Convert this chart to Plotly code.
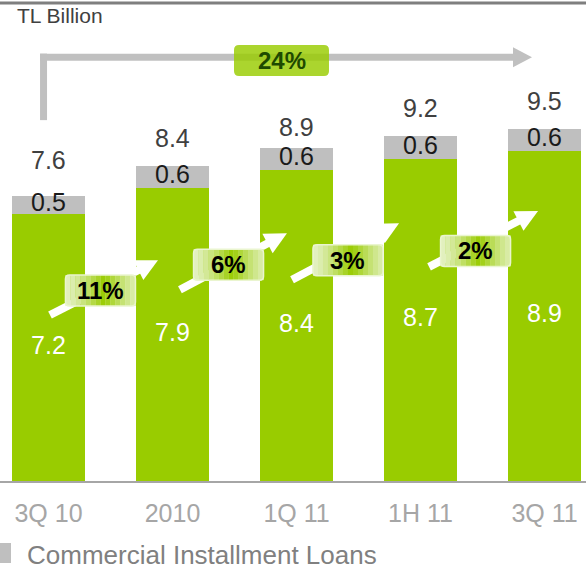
import math
import plotly.graph_objects as go

# ---------------- data ----------------
categories = ["3Q 10", "2010", "1Q 11", "1H 11", "3Q 11"]
main_values = [7.2, 7.9, 8.4, 8.7, 8.9]          # green segment
other_values = [0.5, 0.6, 0.6, 0.6, 0.6]         # grey segment
total_values = [7.6, 8.4, 8.9, 9.2, 9.5]         # totals as printed
growth_labels = ["11%", "6%", "3%", "2%"]
overall_growth = "24%"
unit_label = "TL Billion"
legend_label = "Commercial Installment Loans"

# ---------------- layout / style ----------------
W, H = 586, 573
MB = 92
PH = H - MB                 # plot height in px
PXX = 124.0                 # px per category
PXY = 37.05                 # px per unit on y
X0PX = 48.5                 # px position of first category
X_RANGE = [-X0PX / PXX, (W - X0PX) / PXX]
Y_RANGE = [0, PH / PXY]

GREEN = "#99cc00"
GREY = "#bfbfbf"
FONT = "Arial, Liberation Sans, sans-serif"

total_label_shift = [39, 32, 24, 32, 28]

# decorations in data coordinates
growth_tail = [(0.012, 4.48), (1.06, 5.16), (1.964, 5.43), (3.069, 5.78)]
growth_tip = [(0.883, 5.96), (1.923, 6.69), (2.827, 6.96), (3.948, 7.29)]
growth_box = [(0.419, 5.14), (1.452, 5.84), (2.415, 5.96), (3.444, 6.21)]
BOX_W_PX, BOX_H_PX = 70, 31

bracket_x = -0.04
bracket_bottom = 9.74
bracket_y = 11.44
bracket_tip_x = 3.899
overall_box = (1.496, 2.262, 10.931, 11.768)


def to_px(x, y):
    return X0PX + x * PXX, PH - y * PXY


def to_data(px, py):
    return (px - X0PX) / PXX, (PH - py) / PXY


def arrow_shapes(tail, tip, color, width, head_len, head_half):
    tx, ty = to_px(*tail)
    hx, hy = to_px(*tip)
    dx, dy = hx - tx, hy - ty
    n = math.hypot(dx, dy)
    ux, uy = dx / n, dy / n
    bx, by = hx - ux * head_len, hy - uy * head_len
    nx, ny = -uy, ux
    p1 = to_data(hx, hy)
    p2 = to_data(bx + nx * head_half, by + ny * head_half)
    p3 = to_data(bx - nx * head_half, by - ny * head_half)
    lb = to_data(bx + ux * 2, by + uy * 2)
    out = [
        dict(type="line", xref="x", yref="y", x0=tail[0], y0=tail[1], x1=lb[0], y1=lb[1],
             line=dict(color=color, width=width)),
        dict(type="path", xref="x", yref="y",
             path=f"M{p1[0]},{p1[1]} L{p2[0]},{p2[1]} L{p3[0]},{p3[1]} Z",
             fillcolor=color, line=dict(width=0)),
    ]
    return out


def rounded_path(x0, x1, y0, y1, r_px):
    rx, ry = r_px / PXX, r_px / PXY
    return (f"M{x0+rx},{y0} L{x1-rx},{y0} Q{x1},{y0} {x1},{y0+ry} "
            f"L{x1},{y1-ry} Q{x1},{y1} {x1-rx},{y1} L{x0+rx},{y1} "
            f"Q{x0},{y1} {x0},{y1-ry} L{x0},{y0+ry} Q{x0},{y0} {x0+rx},{y0} Z")


def mix(c1, c2, t):
    return "rgb(%d,%d,%d)" % tuple(round(a + (b - a) * t) for a, b in zip(c1, c2))


xs = list(range(len(categories)))

fig = go.Figure()
fig.add_trace(go.Bar(x=xs, y=main_values, marker=dict(color=GREEN, line=dict(width=0)),
                     width=73 / PXX, name="main", showlegend=False, hoverinfo="skip"))
fig.add_trace(go.Bar(x=xs, y=other_values, marker=dict(color=GREY, line=dict(width=0)),
                     width=73 / PXX, name=legend_label, showlegend=False, hoverinfo="skip"))
fig.add_trace(go.Scatter(x=xs, y=[m / 2 for m in main_values], mode="text",
                         text=[f"{v:.1f}" for v in main_values],
                         textfont=dict(family=FONT, size=25, color="white"),
                         showlegend=False, hoverinfo="skip"))
fig.add_trace(go.Scatter(x=xs, y=[m + o / 2 for m, o in zip(main_values, other_values)],
                         mode="text", text=[f"{v:.1f}" for v in other_values],
                         textfont=dict(family=FONT, size=25, color="#1a1a1a"),
                         showlegend=False, hoverinfo="skip"))

shapes = []
annotations = []

# top rule
shapes.append(dict(type="line", xref="paper", yref="paper", x0=0, x1=1,
                   y0=1 - 3 / PH, y1=1 - 3 / PH, line=dict(color="#7f7f7f", width=3)))

# overall bracket arrow
shapes.append(dict(type="line", xref="x", yref="y", x0=bracket_x, x1=bracket_x,
                   y0=bracket_bottom, y1=bracket_y + 3.5 / PXY,
                   line=dict(color="#c0c0c0", width=7)))
shapes += arrow_shapes((bracket_x - 3.5 / PXX, bracket_y), (bracket_tip_x, bracket_y),
                       "#c0c0c0", 7, 19, 10)
bx0, bx1, by0, by1 = overall_box
shapes.append(dict(type="path", xref="x", yref="y", path=rounded_path(bx0, bx1, by0, by1, 5),
                   fillcolor="rgba(153,204,0,0.82)", line=dict(width=0)))
annotations.append(dict(x=(bx0 + bx1) / 2, y=(by0 + by1) / 2, xref="x", yref="y",
                        text=f"<b>{overall_growth}</b>", showarrow=False,
                        font=dict(family=FONT, size=24, color="#1e4a00")))

# growth arrows + boxes
pale = (228, 241, 196)
green = (153, 204, 0)
for i, lab in enumerate(growth_labels):
    shapes += arrow_shapes(growth_tail[i], growth_tip[i], "white", 8, 22, 11)
    cx, cy = growth_box[i]
    hw, hh = BOX_W_PX / 2 / PXX, BOX_H_PX / 2 / PXY
    nstrip = 14
    sw = 2 * hw / nstrip
    for k in range(nstrip):
        u = (k + 0.5) / nstrip
        t = 1 - abs(u - 0.55) / 0.55
        t = max(0.0, min(1.0, t)) ** 1.3
        shapes.append(dict(type="rect", xref="x", yref="y",
                           x0=cx - hw + k * sw, x1=cx - hw + (k + 1) * sw + 0.002,
                           y0=cy - hh, y1=cy + hh, fillcolor=mix(pale, green, t),
                           line=dict(width=0)))
    shapes.append(dict(type="path", xref="x", yref="y",
                       path=rounded_path(cx - hw, cx + hw, cy - hh, cy + hh, 4),
                       fillcolor="rgba(0,0,0,0)", line=dict(color="#eaf5cf", width=1.5)))
    annotations.append(dict(x=cx, y=cy, xref="x", yref="y", text=f"<b>{lab}</b>",
                            showarrow=False, font=dict(family=FONT, size=24, color="black")))

# totals
for i, tv in enumerate(total_values):
    annotations.append(dict(x=i, y=tv, xref="x", yref="y", text=f"{tv:.1f}",
                            showarrow=False, yanchor="middle", yshift=total_label_shift[i],
                            font=dict(family=FONT, size=25, color="#404040")))

# unit label
annotations.append(dict(x=15 / W, y=1 - 15 / PH, xref="paper", yref="paper", text=unit_label,
                        showarrow=False, xanchor="left", yanchor="middle",
                        font=dict(family=FONT, size=21, color="#404040")))

# legend (custom)
shapes.append(dict(type="rect", xref="paper", yref="paper", x0=0, x1=11 / W,
                   y0=(PH - 563) / PH, y1=(PH - 543) / PH, fillcolor=GREY, line=dict(width=0)))
annotations.append(dict(x=25 / W, y=(PH - 555) / PH, xref="paper", yref="paper",
                        text=legend_label, showarrow=False, xanchor="left", yanchor="middle",
                        font=dict(family=FONT, size=26, color="#808080")))

fig.update_layout(
    width=W, height=H, barmode="stack",
    margin=dict(l=0, r=0, t=0, b=MB),
    paper_bgcolor="white", plot_bgcolor="white",
    shapes=shapes, annotations=annotations,
    xaxis=dict(range=X_RANGE, tickvals=xs, ticktext=categories, showgrid=False,
               zeroline=False, showline=True, linecolor="#a6a6a6", linewidth=2,
               ticks="", ticklabelstandoff=9,
               tickfont=dict(family=FONT, size=25, color="#a6a6a6"), fixedrange=True),
    yaxis=dict(range=Y_RANGE, visible=False, showgrid=False, zeroline=False, fixedrange=True),
    showlegend=False,
)

fig.write_html("out.html", config={"displayModeBar": False},
               post_script="document.body.style.margin='0';")
